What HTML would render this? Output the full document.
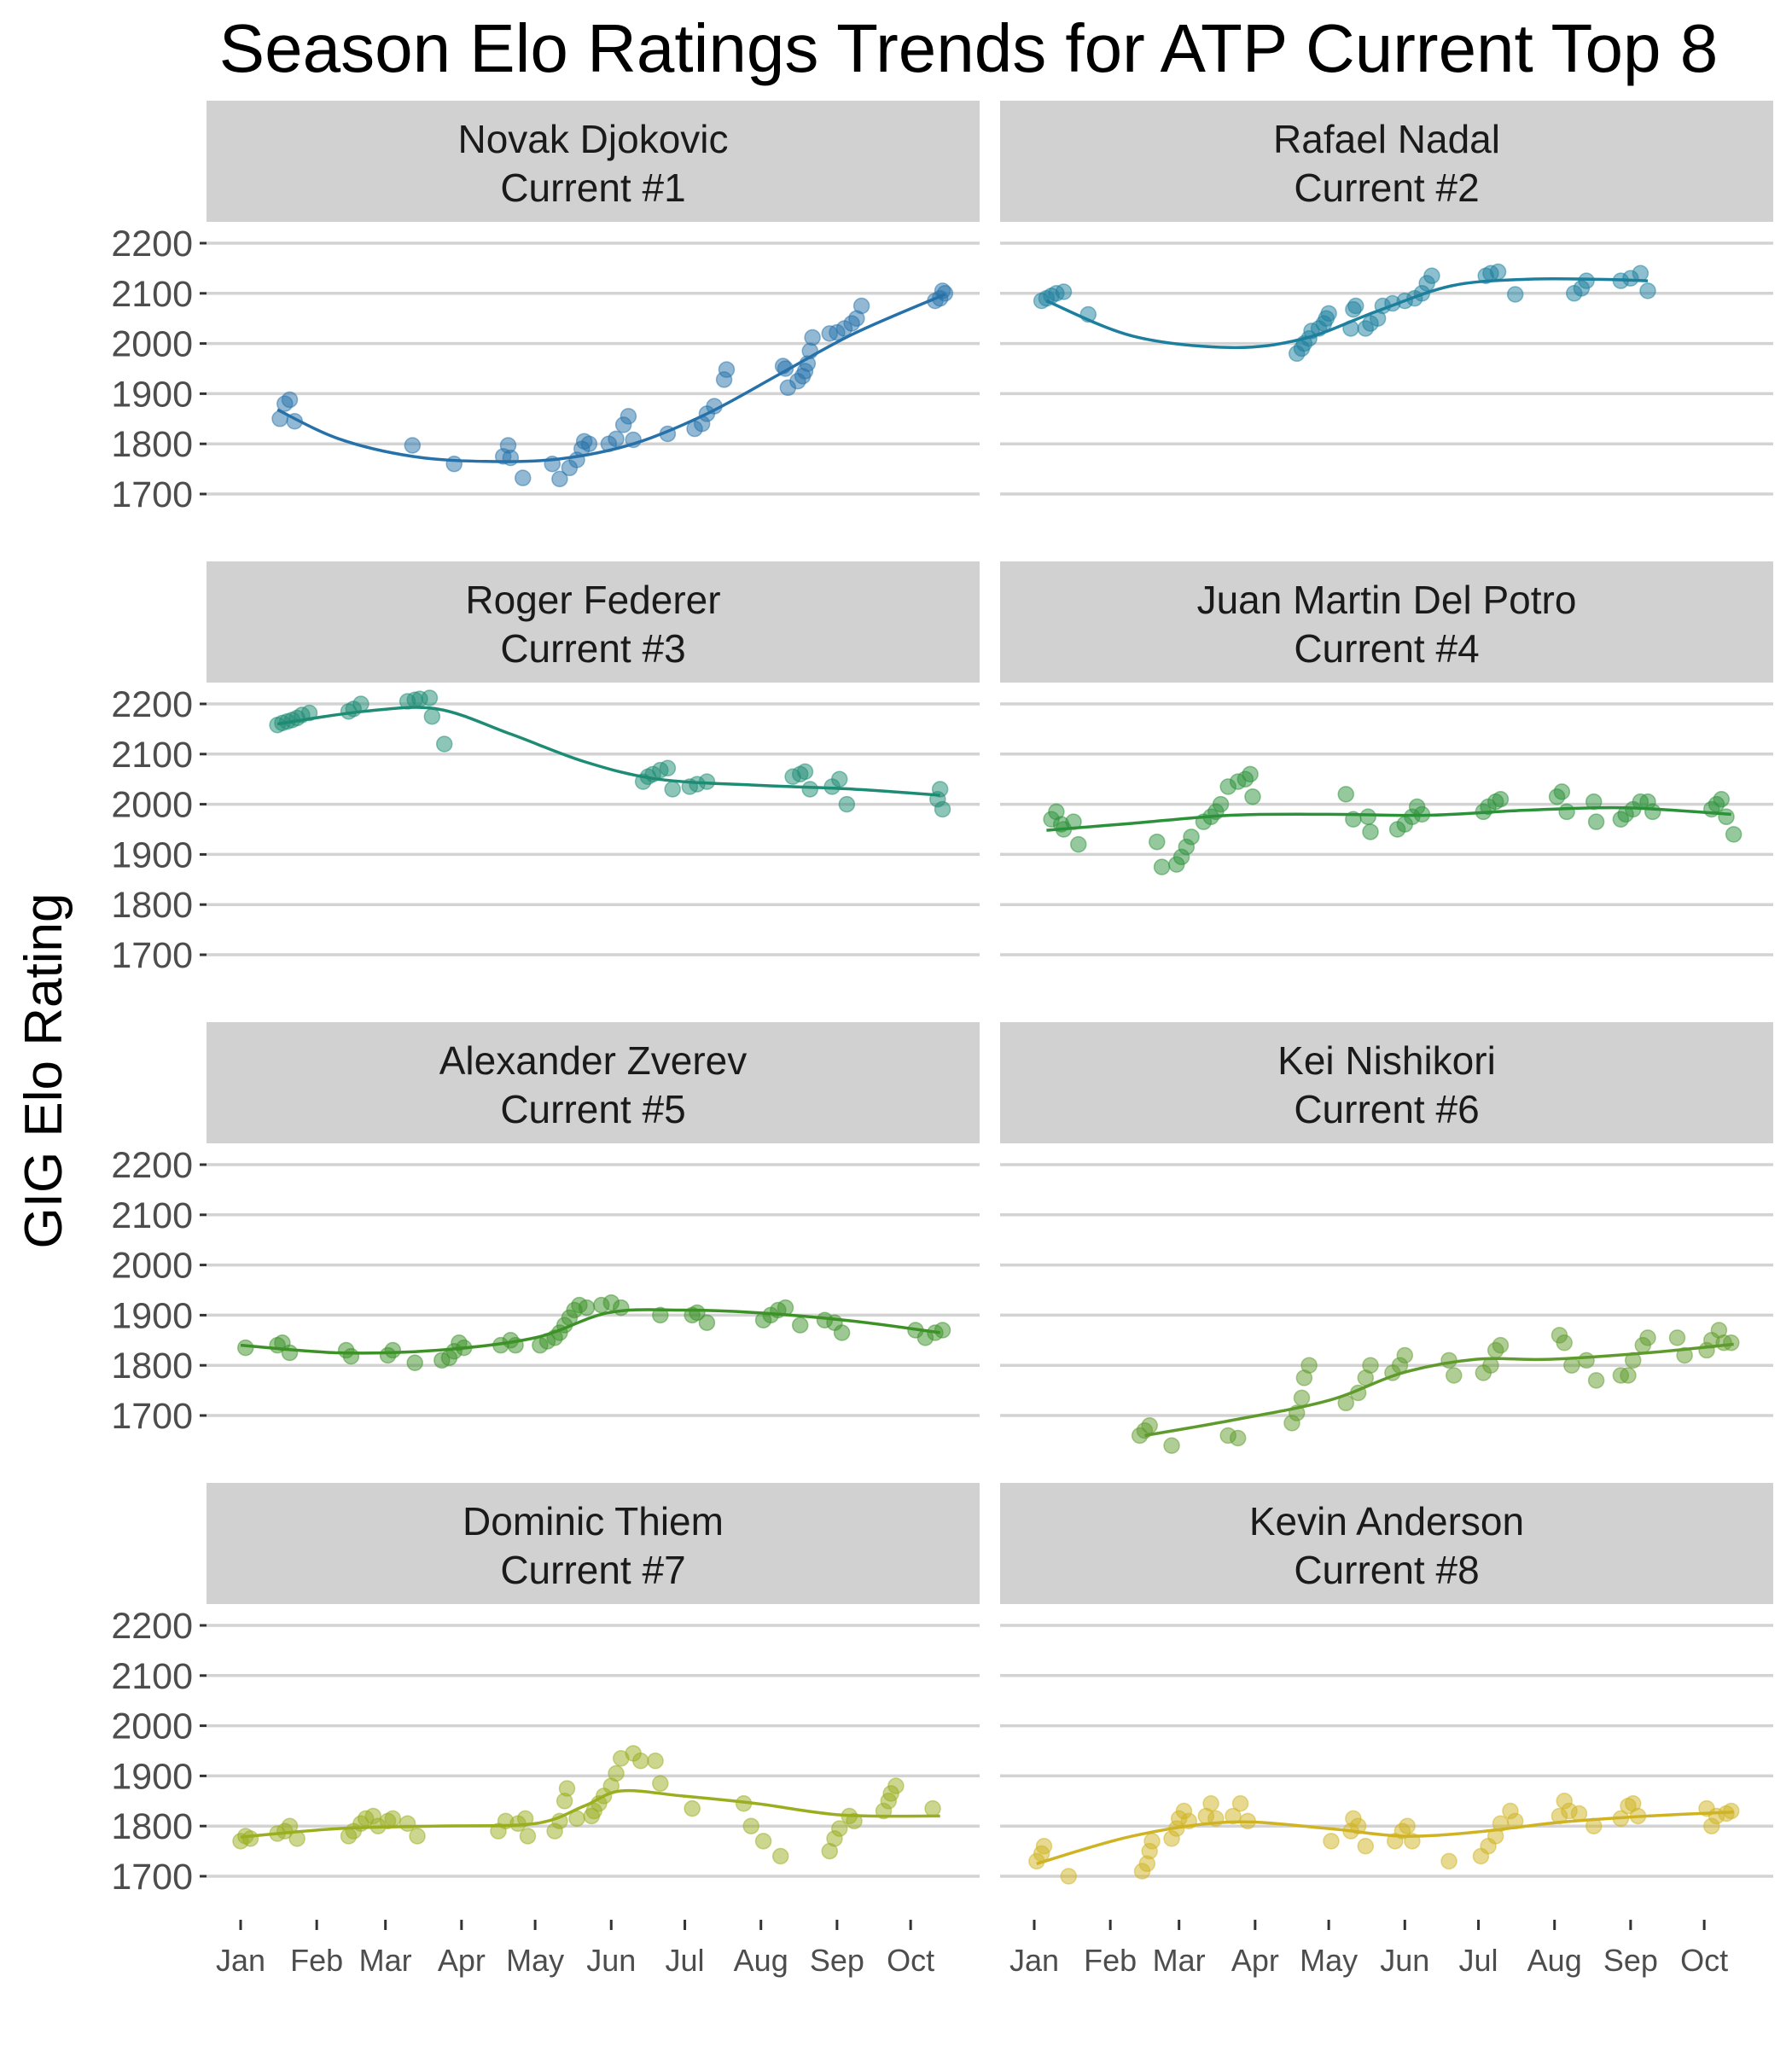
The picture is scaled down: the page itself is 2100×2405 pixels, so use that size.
<!DOCTYPE html>
<html><head><meta charset="utf-8"><style>
html,body{margin:0;padding:0;background:#fff;}
svg text{font-family:"Liberation Sans",sans-serif;}
</style></head><body>
<svg id="chart" width="2100" height="2400" xmlns="http://www.w3.org/2000/svg">
<text x="1135" y="84" font-size="80" text-anchor="middle" fill="#000">Season Elo Ratings Trends for ATP Current Top 8</text>
<text transform="translate(72,1255) rotate(-90)" font-size="62" text-anchor="middle" fill="#000">GIG Elo Rating</text>
<g id="panels"></g>
</svg>
<script>
const players = ["Novak Djokovic","Rafael Nadal","Roger Federer","Juan Martin Del Potro","Alexander Zverev","Kei Nishikori","Dominic Thiem","Kevin Anderson"];
const ranks = ["Current #1","Current #2","Current #3","Current #4","Current #5","Current #6","Current #7","Current #8"];
const colors = ["#2671aa","#1b7f9d","#1e8c74","#2b9239","#3c9127","#5f9b2c","#9aae1f","#d0b322"];
const yTicks = [1700,1800,1900,2000,2100,2200];
const monthLabels = ["Jan","Feb","Mar","Apr","May","Jun","Jul","Aug","Sep","Oct"];
const monthDays = [0,31,59,90,120,151,181,212,243,273];

const djokovicPts = [[16,1850],[18,1880],[20,1888],[22,1845],[70,1797],[87,1760],[107,1775],[109,1797],[110,1772],[115,1732],[127,1760],[130,1730],[134,1752],[137,1768],[139,1790],[140,1805],[142,1800],[150,1800],[153,1810],[156,1838],[158,1855],[160,1808],[174,1820],[185,1830],[188,1840],[190,1860],[193,1875],[197,1928],[198,1948],[221,1955],[222,1950],[223,1912],[227,1925],[229,1935],[230,1945],[231,1960],[232,1985],[233,2012],[240,2020],[243,2022],[246,2030],[249,2040],[251,2050],[253,2075],[283,2085],[285,2090],[287,2100],[286,2105]];
const djokovicFit = [[15,1868],[40,1810],[70,1775],[100,1765],[130,1770],[160,1800],[190,1860],[220,1940],[250,2020],[287,2098]];
const nadalPts = [[3,2085],[5,2090],[7,2095],[9,2100],[12,2103],[22,2058],[107,1980],[109,1990],[110,2000],[112,2010],[113,2025],[116,2030],[118,2040],[119,2050],[120,2060],[129,2030],[130,2068],[131,2075],[135,2030],[137,2040],[140,2050],[142,2075],[146,2080],[151,2085],[155,2090],[158,2100],[160,2120],[162,2135],[184,2135],[186,2140],[189,2143],[196,2098],[220,2100],[223,2110],[225,2125],[239,2125],[243,2130],[247,2140],[250,2105]];
const nadalFit = [[5,2085],[40,2015],[80,1992],[110,2010],[140,2065],[170,2115],[200,2128],[230,2128],[250,2125]];
const federerPts = [[15,2158],[17,2162],[19,2165],[21,2168],[23,2172],[25,2178],[28,2182],[44,2185],[46,2190],[49,2200],[68,2205],[71,2208],[73,2210],[77,2212],[78,2175],[83,2120],[164,2045],[166,2055],[168,2060],[171,2068],[174,2072],[176,2030],[183,2035],[186,2040],[190,2045],[225,2055],[228,2060],[230,2065],[232,2030],[241,2035],[244,2050],[247,2000],[284,2010],[285,2030],[286,1990]];
const federerFit = [[15,2160],[50,2185],[80,2190],[110,2140],[140,2085],[170,2050],[210,2038],[250,2030],[285,2018]];
const delpotroPts = [[7,1970],[9,1985],[11,1960],[12,1950],[16,1965],[18,1920],[50,1925],[52,1875],[58,1880],[60,1895],[62,1915],[64,1935],[69,1965],[72,1975],[74,1985],[76,2000],[79,2035],[83,2045],[86,2050],[88,2060],[89,2015],[127,2020],[130,1970],[136,1975],[137,1945],[148,1950],[151,1960],[154,1975],[156,1995],[158,1980],[183,1985],[185,1995],[188,2005],[190,2010],[213,2015],[215,2025],[217,1985],[228,2005],[229,1965],[239,1970],[241,1980],[244,1990],[247,2005],[250,2005],[252,1985],[276,1990],[278,2000],[280,2010],[282,1975],[285,1940]];
const delpotroFit = [[5,1948],[40,1962],[80,1978],[120,1980],[160,1978],[200,1988],[240,1993],[284,1980]];
const zverevPts = [[2,1835],[15,1840],[17,1845],[20,1825],[43,1830],[45,1818],[60,1820],[62,1830],[71,1805],[82,1810],[85,1815],[87,1828],[89,1845],[91,1835],[106,1840],[110,1850],[112,1840],[122,1840],[125,1848],[128,1855],[130,1865],[132,1880],[134,1895],[136,1910],[138,1920],[141,1915],[147,1920],[151,1925],[155,1915],[171,1900],[184,1900],[186,1905],[190,1885],[213,1890],[216,1900],[219,1910],[222,1915],[228,1880],[238,1890],[242,1885],[245,1865],[275,1870],[279,1855],[283,1865],[286,1870]];
const zverevFit = [[0,1840],[40,1825],[80,1830],[120,1855],[150,1905],[180,1910],[210,1905],[250,1888],[285,1865]];
const nishikoriPts = [[43,1660],[45,1670],[47,1680],[56,1640],[79,1660],[83,1655],[105,1685],[107,1705],[109,1735],[110,1775],[112,1800],[127,1725],[132,1745],[135,1775],[137,1800],[146,1785],[149,1800],[151,1820],[169,1810],[171,1780],[183,1785],[186,1800],[188,1830],[190,1840],[214,1860],[216,1845],[219,1800],[225,1810],[229,1770],[239,1780],[242,1780],[244,1810],[248,1840],[250,1855],[262,1855],[265,1820],[274,1830],[276,1850],[279,1870],[281,1845],[284,1845]];
const nishikoriFit = [[45,1660],[80,1690],[120,1730],[150,1785],[180,1812],[210,1812],[250,1825],[285,1842]];
const thiemPts = [[0,1770],[2,1780],[4,1775],[15,1785],[18,1790],[20,1800],[23,1775],[44,1780],[46,1790],[49,1805],[51,1815],[54,1820],[56,1800],[60,1810],[62,1815],[68,1805],[72,1780],[105,1790],[108,1810],[113,1805],[116,1815],[117,1780],[128,1790],[130,1810],[132,1850],[133,1875],[137,1815],[143,1820],[144,1830],[146,1845],[148,1860],[151,1880],[153,1905],[155,1935],[160,1945],[163,1930],[169,1930],[171,1885],[184,1835],[205,1845],[208,1800],[213,1770],[220,1740],[240,1750],[242,1775],[244,1795],[248,1820],[250,1810],[262,1830],[264,1850],[265,1865],[267,1880],[282,1835]];
const thiemFit = [[0,1778],[40,1795],[80,1800],[120,1805],[140,1840],[155,1870],[180,1860],[210,1845],[245,1822],[285,1820]];
const andersonPts = [[1,1730],[3,1745],[4,1760],[14,1700],[44,1710],[46,1725],[47,1750],[48,1770],[56,1775],[58,1795],[59,1815],[61,1830],[63,1810],[70,1820],[72,1845],[74,1815],[81,1820],[84,1845],[87,1810],[121,1770],[129,1790],[130,1815],[132,1800],[135,1760],[147,1770],[150,1790],[152,1800],[154,1770],[169,1730],[182,1740],[185,1760],[188,1780],[190,1805],[194,1830],[196,1810],[214,1820],[216,1850],[218,1830],[222,1825],[228,1800],[239,1815],[242,1840],[244,1845],[246,1820],[274,1835],[276,1800],[278,1820],[282,1825],[284,1830]];
const andersonFit = [[1,1725],[40,1780],[80,1808],[120,1795],[150,1780],[180,1788],[215,1808],[250,1820],[285,1828]];

const allPts = [djokovicPts,nadalPts,federerPts,delpotroPts,zverevPts,nishikoriPts,thiemPts,andersonPts];
const allFits = [djokovicFit,nadalFit,federerFit,delpotroFit,zverevFit,nishikoriFit,thiemFit,andersonFit];

const NS = "http://www.w3.org/2000/svg";
const root = document.getElementById("panels");
const PX0 = [242,1172], PW = 906, ROWH = 540;
function xScale(col, d){ return PX0[col] + 40 + d*2.876; }
function yScale(row, v){ return 285 + row*ROWH + (2200-v)*0.588; }
function mk(tag, attrs, parent){ const e=document.createElementNS(NS,tag); for(const k in attrs) e.setAttribute(k,attrs[k]); parent.appendChild(e); return e; }
function slug(s){ return s.toLowerCase().replace(/[^a-z0-9]+/g,'-'); }

for(let i=0;i<8;i++){
  const row=Math.floor(i/2), col=i%2;
  const g=mk("g",{},root);
  
  
  const st=mk("rect",{x:PX0[col],y:118+row*ROWH,width:PW,height:142,fill:"#d1d1d1"},g);
  
  
  const t1=mk("text",{x:PX0[col]+PW/2,y:179+row*ROWH,"font-size":46,"text-anchor":"middle",fill:"#1a1a1a"},g);
  t1.textContent=players[i];
  
  
  const t2=mk("text",{x:PX0[col]+PW/2,y:236+row*ROWH,"font-size":46,"text-anchor":"middle",fill:"#1a1a1a"},g);
  t2.textContent=ranks[i];
  
  
  yTicks.forEach(v=>{
    const y=yScale(row,v);
    const gl=mk("line",{x1:PX0[col],x2:PX0[col]+PW,y1:y,y2:y,stroke:"#d3d3d3","stroke-width":3.5},g);
    
    
    if(col===0){
      mk("line",{x1:PX0[0]-8,x2:PX0[0],y1:y,y2:y,stroke:"#333","stroke-width":3},g);
      const tl=mk("text",{x:PX0[0]-16,y:y+15,"font-size":43,"text-anchor":"end",fill:"#4d4d4d"},g);
      tl.textContent=v;
      
      
    }
  });
  if(row===3){
    monthLabels.forEach((m,k)=>{
      const x=xScale(col,monthDays[k]);
      mk("line",{x1:x,x2:x,y1:2250,y2:2262,stroke:"#333","stroke-width":3},g);
      const ml=mk("text",{x:x,y:2310,"font-size":36,"text-anchor":"middle",fill:"#4d4d4d"},g);
      ml.textContent=m;
      
      
    });
  }
  allPts[i].forEach(p=>{
    const c=mk("circle",{cx:xScale(col,p[0]),cy:yScale(row,p[1]),r:9,fill:colors[i],"fill-opacity":0.5,stroke:colors[i],"stroke-opacity":0.5,"stroke-width":1.5},g);
    
    
  });
  const f=allFits[i].map(p=>[xScale(col,p[0]),yScale(row,p[1])]);
  let d="M"+f[0][0]+","+f[0][1];
  for(let k=0;k<f.length-1;k++){
    const p0=f[Math.max(0,k-1)],p1=f[k],p2=f[k+1],p3=f[Math.min(f.length-1,k+2)];
    const c1=[p1[0]+(p2[0]-p0[0])/6,p1[1]+(p2[1]-p0[1])/6];
    const c2=[p2[0]-(p3[0]-p1[0])/6,p2[1]-(p3[1]-p1[1])/6];
    d+=" C"+c1+" "+c2+" "+p2;
  }
  const ln=mk("path",{d:d,fill:"none",stroke:colors[i],"stroke-width":3.5},g);
  
  
}
</script>
</body></html>
